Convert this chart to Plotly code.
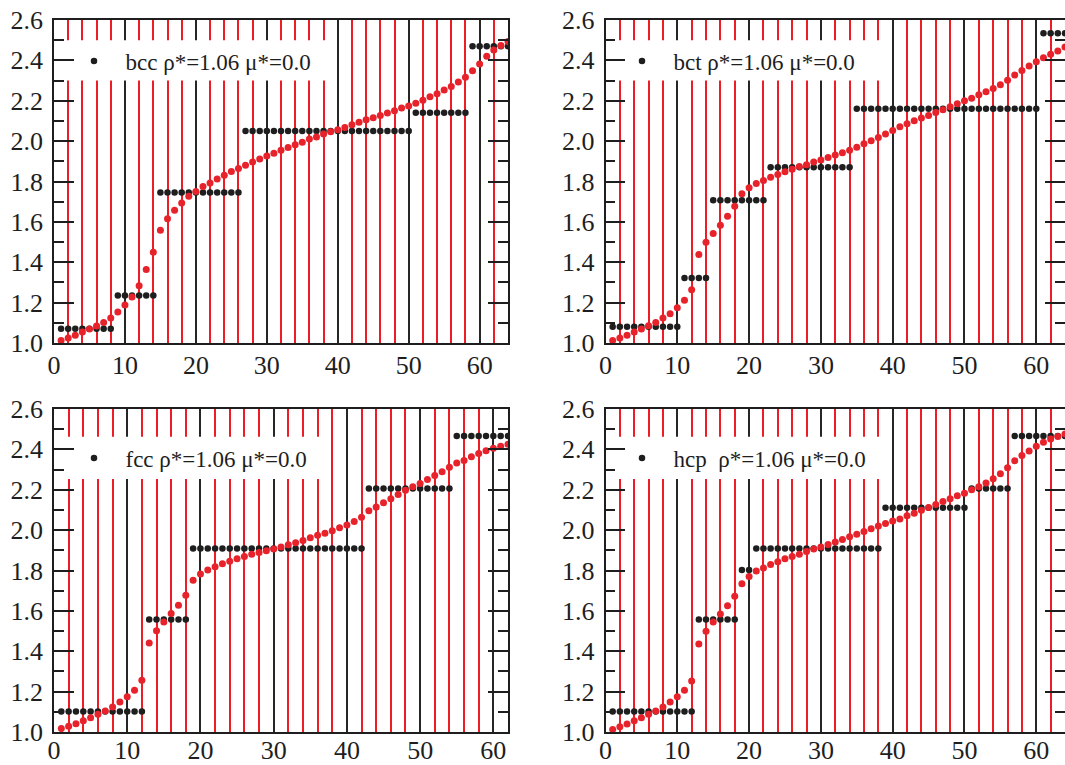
import plotly.graph_objects as go

# ---------------- data ----------------
idx64 = list(range(1, 65))
idx62 = list(range(1, 63))

bcc_shell = [1.07] * 8 + [1.235] * 6 + [1.745] * 12 + [2.05] * 24 + [2.14] * 8 + [2.47] * 6
bcc_curve = [1.013, 1.025, 1.038, 1.055, 1.069, 1.084, 1.102, 1.124, 1.154, 1.188,
             1.228, 1.284, 1.364, 1.450, 1.559, 1.615, 1.658, 1.694, 1.727, 1.750,
             1.775, 1.793, 1.813, 1.831, 1.850, 1.864, 1.881, 1.896, 1.911, 1.926,
             1.940, 1.955, 1.969, 1.982, 1.995, 2.010, 2.021, 2.035, 2.046, 2.056,
             2.068, 2.081, 2.093, 2.106, 2.116, 2.127, 2.139, 2.150, 2.164, 2.174,
             2.187, 2.203, 2.220, 2.235, 2.253, 2.271, 2.293, 2.317, 2.349, 2.382,
             2.420, 2.451, 2.474, 2.494]

bct_shell = [1.08] * 10 + [1.322] * 4 + [1.707] * 8 + [1.871] * 12 + [2.16] * 26 + [2.534] * 4
bct_curve = [1.013, 1.025, 1.038, 1.055, 1.069, 1.086, 1.102, 1.124, 1.145, 1.174,
             1.212, 1.264, 1.438, 1.499, 1.542, 1.583, 1.628, 1.678, 1.739, 1.769,
             1.790, 1.805, 1.821, 1.835, 1.848, 1.861, 1.874, 1.883, 1.896, 1.907,
             1.919, 1.931, 1.942, 1.955, 1.970, 1.987, 2.002, 2.018, 2.035, 2.053,
             2.071, 2.086, 2.101, 2.114, 2.127, 2.142, 2.155, 2.170, 2.185, 2.200,
             2.213, 2.230, 2.245, 2.261, 2.279, 2.302, 2.327, 2.350, 2.372, 2.393,
             2.413, 2.430, 2.446, 2.466]

fcc_shell = [1.102] * 12 + [1.557] * 6 + [1.909] * 24 + [2.206] * 12 + [2.466] * 8
fcc_curve = [1.017, 1.028, 1.041, 1.056, 1.071, 1.088, 1.104, 1.124, 1.149, 1.175,
             1.207, 1.256, 1.441, 1.501, 1.545, 1.587, 1.628, 1.678, 1.752, 1.783,
             1.803, 1.818, 1.833, 1.846, 1.858, 1.869, 1.881, 1.889, 1.898, 1.907,
             1.917, 1.927, 1.937, 1.949, 1.962, 1.974, 1.985, 1.997, 2.012, 2.026,
             2.043, 2.064, 2.096, 2.114, 2.136, 2.155, 2.177, 2.197, 2.215, 2.231,
             2.251, 2.271, 2.289, 2.311, 2.332, 2.345, 2.364, 2.379, 2.393, 2.405,
             2.415, 2.425]

hcp_shell = [1.102] * 12 + [1.557] * 6 + [1.802] * 2 + [1.909] * 18 + [2.111] * 12 + [2.206] * 6 + [2.466] * 8
hcp_curve = [1.013, 1.026, 1.040, 1.056, 1.071, 1.088, 1.104, 1.124, 1.149, 1.175,
             1.207, 1.253, 1.436, 1.499, 1.545, 1.585, 1.626, 1.673, 1.734, 1.770,
             1.797, 1.813, 1.830, 1.843, 1.858, 1.869, 1.881, 1.894, 1.906, 1.916,
             1.929, 1.941, 1.954, 1.967, 1.980, 1.993, 2.007, 2.020, 2.033, 2.045,
             2.055, 2.071, 2.084, 2.098, 2.112, 2.127, 2.142, 2.155, 2.170, 2.183,
             2.200, 2.215, 2.233, 2.255, 2.279, 2.309, 2.344, 2.370, 2.392, 2.415,
             2.435, 2.451, 2.464, 2.476]

labels = ["bcc ρ*=1.06 μ*=0.0", "bct ρ*=1.06 μ*=0.0",
          "fcc ρ*=1.06 μ*=0.0", "hcp\u00a0 ρ*=1.06 μ*=0.0"]
x_ranges = [[0, 64], [0, 64], [0, 62], [0, 64]]
y_range = [1.0, 2.6]
y_ticks = [1.0, 1.2, 1.4, 1.6, 1.8, 2.0, 2.2, 2.4, 2.6]

# ---------------- styling ----------------
W, H = 1065, 765
FONT = "Liberation Serif, Times New Roman, serif"
INK = "#1e1e1e"
GRID_INK = "#262626"
RED = "#e8222b"
GRID_RED = "#ee1c24"

panels = [
    dict(x=idx64, shell=bcc_shell, curve=bcc_curve),
    dict(x=idx64, shell=bct_shell, curve=bct_curve),
    dict(x=idx62, shell=fcc_shell, curve=fcc_curve),
    dict(x=idx64, shell=hcp_shell, curve=hcp_curve),
]

# pixel boxes of the four plot areas: (left, right, top, bottom)
boxes = [(54, 508, 20, 343), (605.5, 1065, 20, 343),
         (54, 508, 409, 732), (605.5, 1065, 409, 732)]
# x tick-label standoff per panel (bottom row pulled up a little to stay on the page)
x_standoff = [-2, -2, -6, -6]
# legend dot centre in pixels
legend_px = [(94, 61), (642, 61), (94, 458), (642, 458)]
# white legend backdrop in data units (x0, x1, y0, y1)
legend_box = [(0.3, 39.7, 2.30, 2.50), (0.3, 39.0, 2.30, 2.50),
              (0.3, 37.2, 2.253, 2.463), (0.3, 38.3, 2.253, 2.463)]

fig = go.Figure()
layout = dict(template="none", width=W, height=H, autosize=False,
              margin=dict(l=0, r=0, t=0, b=0, pad=0),
              paper_bgcolor="white", plot_bgcolor="white",
              font=dict(family=FONT, color=INK), shapes=[])

for i, p in enumerate(panels):
    n = "" if i == 0 else str(i + 1)
    xa, ya = "x" + n, "y" + n
    leg = "legend" + n
    fig.add_trace(go.Scatter(x=p["x"], y=p["shell"], mode="markers", xaxis=xa, yaxis=ya,
                             marker=dict(size=6.5, color=INK),
                             name="\u00a0\u00a0" + labels[i],
                             legend=leg, showlegend=True))
    fig.add_trace(go.Scatter(x=p["x"], y=p["curve"], mode="markers", xaxis=xa, yaxis=ya,
                             marker=dict(size=7, color=RED), showlegend=False))
    l, r, t, b = boxes[i]
    layout["xaxis" + n] = dict(
        domain=[l / W, min(r / W, 1.0)], anchor=ya, range=x_ranges[i], automargin=False,
        showline=True, linecolor=INK, linewidth=1.6, mirror=True,
        showgrid=True, gridcolor=GRID_INK, gridwidth=1.6, tickmode="linear", tick0=0, dtick=10,
        ticks="", tickfont=dict(size=26, family=FONT, color=INK), ticklabeloverflow="allow",
        ticklabelstandoff=x_standoff[i],
        minor=dict(tickmode="linear", tick0=0, dtick=2, showgrid=True,
                   gridcolor=GRID_RED, gridwidth=2, ticks=""),
        zeroline=False, fixedrange=True)
    layout["yaxis" + n] = dict(
        domain=[1 - b / H, 1 - t / H], anchor=xa, range=y_range, automargin=False,
        tickmode="array", tickvals=y_ticks, ticktext=[f"{v:.1f}" for v in y_ticks],
        showline=True, linecolor=INK, linewidth=1.6, mirror="allticks",
        ticks="inside", ticklen=20, tickwidth=1.6, tickcolor=INK, ticklabelstandoff=4,
        ticklabeloverflow="allow",
        minor=dict(tickmode="linear", dtick=0.1, tick0=1.0, ticks="inside", ticklen=10,
                   tickwidth=1.6, tickcolor=INK, showgrid=False),
        showgrid=False, zeroline=False, tickfont=dict(size=26, family=FONT, color=INK),
        fixedrange=True)
    lx, ly = legend_px[i]
    layout[leg] = dict(x=(lx - 20) / W, y=1 - ly / H,
                       xanchor="left", yanchor="middle",
                       xref="paper", yref="paper", bgcolor="rgba(0,0,0,0)", borderwidth=0,
                       font=dict(size=23, family=FONT, color=INK))
    x0, x1, y0, y1 = legend_box[i]
    layout["shapes"].append(dict(type="rect", xref=xa, yref=ya, x0=x0, x1=x1, y0=y0, y1=y1,
                                 fillcolor="white", line=dict(width=0), layer="between"))

fig.update_layout(**layout)
fig.write_html("out.html", config={"displayModeBar": False},
               post_script="document.body.style.margin='0';"
                           "document.documentElement.style.overflow='hidden';")
